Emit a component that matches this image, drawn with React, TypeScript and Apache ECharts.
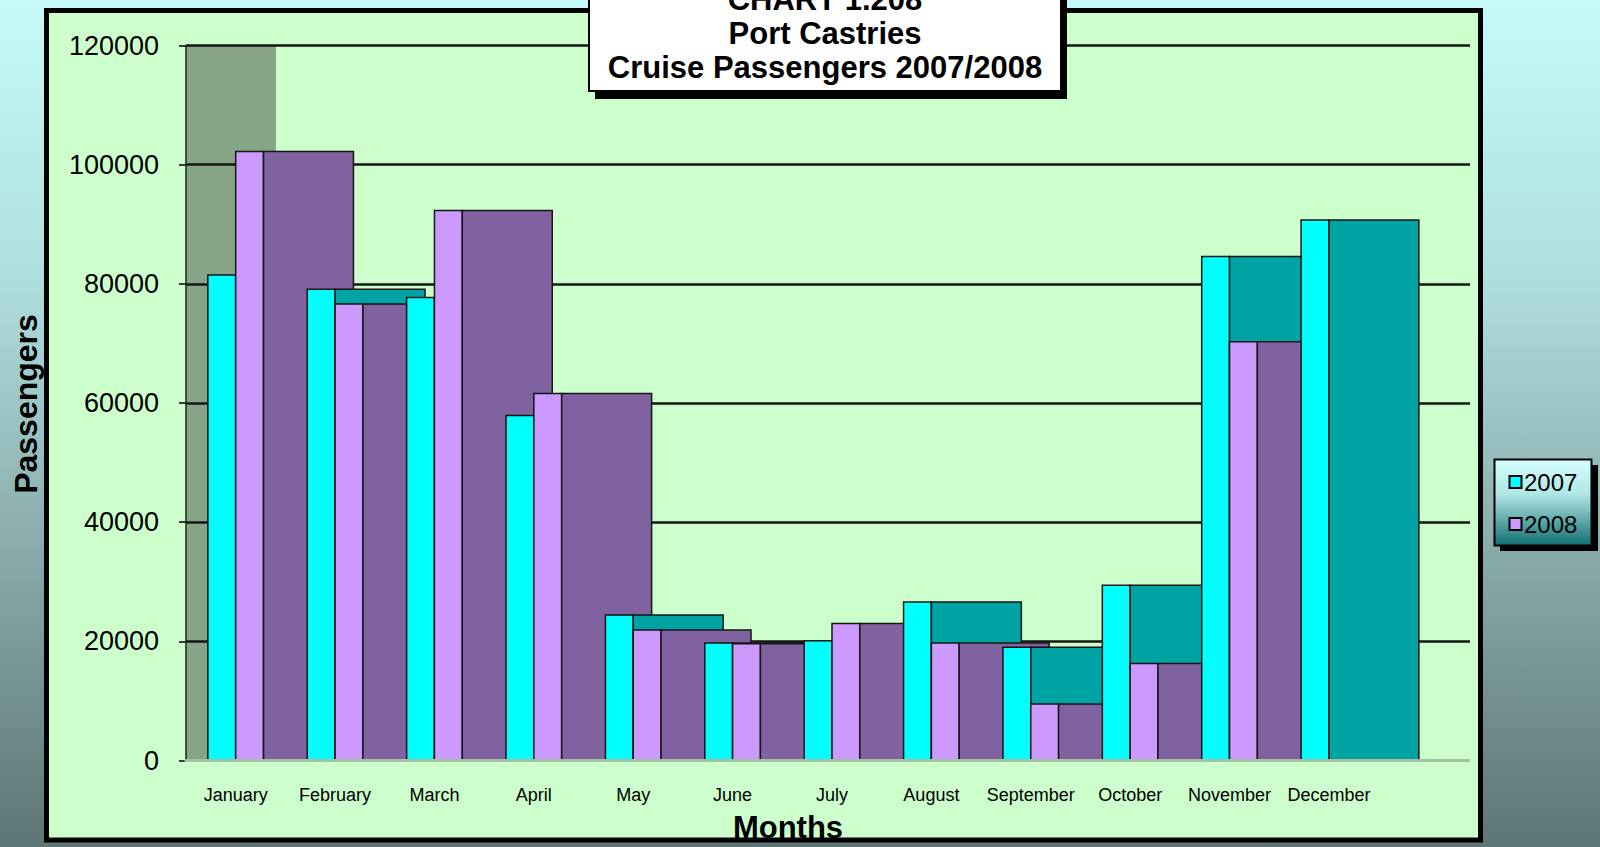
import React, { useEffect, useRef } from "react";
import * as echarts from "echarts";

const months = ["January", "February", "March", "April", "May", "June", "July", "August", "September", "October", "November", "December"];
const seriesNames = ["2007", "2008"];
const pax2007 = [81500, 79100, 77700, 57900, 24400, 19700, 20100, 26600, 19000, 29400, 84600, 90700];
const pax2008: (number | null)[] = [102200, 76600, 92300, 61600, 21900, 19600, 23000, 19700, 9500, 16300, 70300, null];
const yTicks = { min: 0, max: 120000, interval: 20000 };
const titleLines = ["CHART 1.208", "Port Castries", "Cruise Passengers 2007/2008"];
const xTitle = "Months";
const yTitle = "Passengers";

const FONT = "'Liberation Sans', Arial, Helvetica, sans-serif";
const CYAN = "#00ffff";
const TEAL = "#00a3a3";
const LAV = "#cc99ff";
const PURPLE = "#8062a0";
const WALL = "#86a586";
const PLOT_BG = "#ccffcc";
const BAR_RATIO = 0.28;
const SHADOW_RATIO = 0.905;

export default function App() {
  const ref = useRef<HTMLDivElement>(null);
  useEffect(() => {
    document.body.style.margin = "0";
    const chart = echarts.init(ref.current!, null, { renderer: "svg" });

    const data = months.map((m, i) => [i, pax2007[i] ?? "-", pax2008[i] == null ? "-" : pax2008[i]]);
    const edge = { stroke: "#151515", lineWidth: 1.5 };

    const renderBars = (params: any, api: any) => {
      const idx = api.value(0);
      const v7 = api.value(1);
      const v8 = api.value(2);
      const band = api.size([1, 0])[0];
      const zero = api.coord([idx, 0]);
      const cx = zero[0];
      const y0 = zero[1];
      const bw = band * BAR_RATIO;
      const sw = band * SHADOW_RATIO;
      const children: any[] = [];
      if (!isNaN(v7)) {
        const top = api.coord([idx, v7])[1];
        children.push({ type: "rect", shape: { x: cx - bw, y: top, width: bw, height: y0 - top }, style: { fill: CYAN, ...edge } });
        children.push({ type: "rect", shape: { x: cx, y: top, width: sw, height: y0 - top }, style: { fill: TEAL, ...edge } });
      }
      if (!isNaN(v8)) {
        const top = api.coord([idx, v8])[1];
        children.push({ type: "rect", shape: { x: cx, y: top, width: bw, height: y0 - top }, style: { fill: LAV, ...edge } });
        children.push({ type: "rect", shape: { x: cx + bw, y: top, width: sw, height: y0 - top }, style: { fill: PURPLE, ...edge } });
      }
      return { type: "group", children };
    };

    const renderWall = (params: any, api: any) => {
      const band = api.size([1, 0])[0];
      const zero = api.coord([0, 0]);
      const top = api.coord([0, api.value(1)])[1];
      const left = zero[0] - band / 2;
      return {
        type: "rect",
        shape: { x: left, y: top, width: band * SHADOW_RATIO, height: zero[1] - top },
        style: { fill: WALL },
      };
    };

    const legendItems = seriesNames.map((name, i) => ({
      type: "group",
      z: 20,
      children: [
        { type: "rect", z: 20, shape: { x: 1509.5, y: 476 + i * 42, width: 12, height: 12 }, style: { fill: i === 0 ? CYAN : LAV, stroke: "#000", lineWidth: 2 } },
        { type: "text", z: 20, style: { x: 1524, y: 482 + i * 42, text: name, fill: "#000", font: `24px ${FONT}`, align: "left", verticalAlign: "middle" } },
      ],
    }));

    const option: any = {
      animation: false,
      backgroundColor: {
        type: "linear", x: 0, y: 0, x2: 0, y2: 1,
        colorStops: [
          { offset: 0, color: "#c6fafa" },
          { offset: 0.33, color: "#afdede" },
          { offset: 0.64, color: "#8aacac" },
          { offset: 1, color: "#5e7575" },
        ],
      },
      grid: { left: 186, right: 122, top: 45.5, bottom: 86.5, containLabel: false },
      xAxis: {
        type: "category",
        data: [...months, ""],
        z: 3,
        axisLine: { show: true, lineStyle: { color: "#a3c1a3", width: 3 } },
        axisTick: { show: false },
        axisLabel: { interval: 0, fontSize: 18, color: "#000", margin: 25, fontFamily: FONT },
        splitLine: { show: false },
      },
      yAxis: {
        type: "value",
        z: 1,
        min: yTicks.min,
        max: yTicks.max,
        interval: yTicks.interval,
        axisLine: { show: true, lineStyle: { color: "#222", width: 1.5 } },
        axisTick: { show: true, length: 7, lineStyle: { color: "#000", width: 1.5 } },
        axisLabel: { fontSize: 27, color: "#000", margin: 27, fontFamily: FONT, formatter: (v: number) => String(v) },
        splitLine: { show: true, lineStyle: { color: "#141414", width: 2.5 } },
      },
      series: [
        { type: "custom", name: "wall", z: 0, data: [[0, yTicks.max]], renderItem: renderWall, silent: true },
        { type: "custom", name: "passengers", z: 2, data, encode: { x: 0, y: [1, 2] }, renderItem: renderBars },
      ],
      graphic: [
        { type: "rect", z: -10, shape: { x: 46.5, y: 10.5, width: 1434, height: 829.5 }, style: { fill: PLOT_BG } },
        { type: "rect", z: 5, shape: { x: 1470, y: 38, width: 9, height: 730 }, style: { fill: PLOT_BG } },
        { type: "text", z: 6, x: 26, y: 404, rotation: Math.PI / 2, style: { text: yTitle, fill: "#000", font: `bold 32px ${FONT}`, align: "center", verticalAlign: "middle" } },
        { type: "text", z: 6, style: { x: 788, y: 827, text: xTitle, fill: "#000", font: `bold 31px ${FONT}`, align: "center", verticalAlign: "middle" } },
        { type: "rect", z: 10, shape: { x: 46.5, y: 10.5, width: 1434, height: 829.5 }, style: { fill: "transparent", stroke: "#000", lineWidth: 5 } },
        // title box
        { type: "rect", z: 11, shape: { x: 595, y: -44, width: 472, height: 143 }, style: { fill: "#000" } },
        { type: "rect", z: 12, shape: { x: 589, y: -50, width: 472, height: 141 }, style: { fill: "#ffffff", stroke: "#000", lineWidth: 2 } },
        ...titleLines.map((t, i) => ({
          type: "text", z: 13,
          style: { x: 825, y: -0.5 + i * 34, text: t, fill: "#000", font: `bold 31px ${FONT}`, align: "center", verticalAlign: "middle" },
        })),
        // legend
        { type: "rect", z: 18, shape: { x: 1500, y: 465, width: 98, height: 86 }, style: { fill: "#000" } },
        {
          type: "rect", z: 19, shape: { x: 1494.5, y: 459.5, width: 97, height: 86 },
          style: {
            fill: { type: "linear", x: 0, y: 0, x2: 0, y2: 1, colorStops: [{ offset: 0, color: "#d6ffff" }, { offset: 0.4, color: "#b0e6e6" }, { offset: 1, color: "#127070" }] },
            stroke: "#000", lineWidth: 2,
          },
        },
        ...legendItems,
      ],
    };
    chart.setOption(option);
    return () => chart.dispose();
  }, []);
  return <div ref={ref} style={{ position: "fixed", left: 0, top: 0, width: 1600, height: 847 }} />;
}
